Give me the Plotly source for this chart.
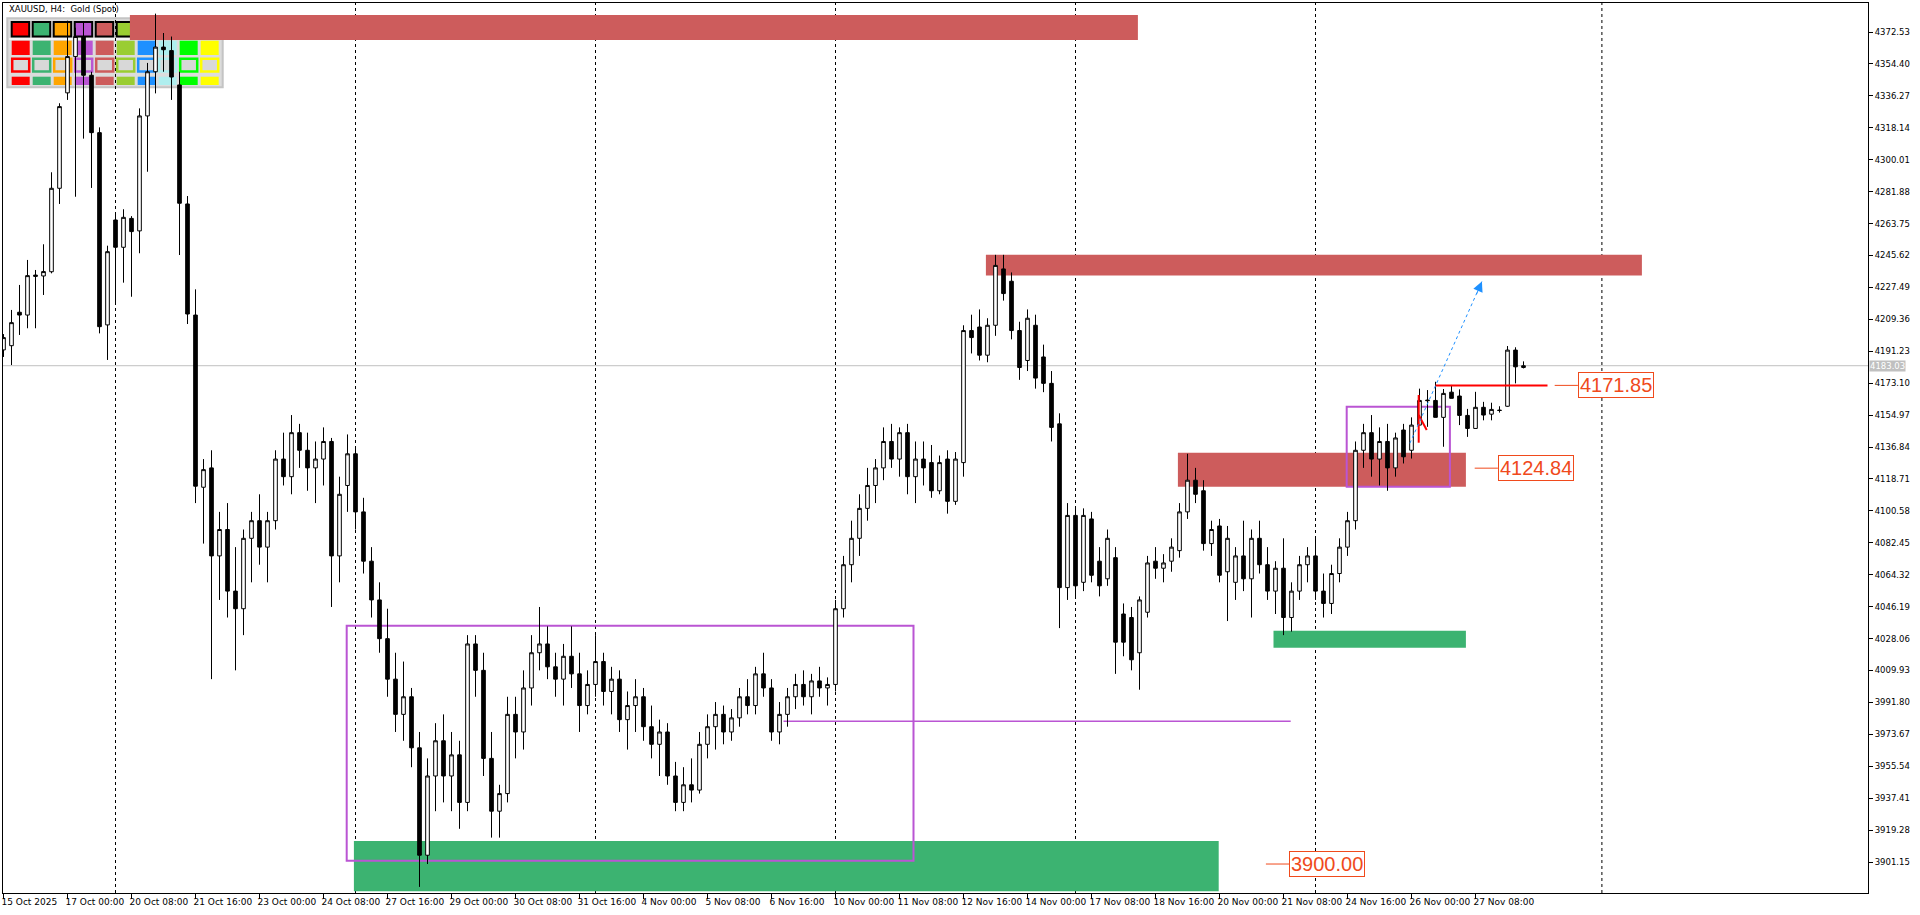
import plotly.graph_objects as go

# ---------------- data ----------------
x_tick_idx = [0, 8, 16, 24, 32, 40, 48, 56, 64, 72, 80, 88, 96, 104, 112, 120, 128, 136, 144, 152, 160, 168, 176, 184]
x_tick_text = ["15 Oct 2025", "17 Oct 00:00", "20 Oct 08:00", "21 Oct 16:00", "23 Oct 00:00", "24 Oct 08:00",
               "27 Oct 16:00", "29 Oct 00:00", "30 Oct 08:00", "31 Oct 16:00", "4 Nov 00:00", "5 Nov 08:00",
               "6 Nov 16:00", "10 Nov 00:00", "11 Nov 08:00", "12 Nov 16:00", "14 Nov 00:00", "17 Nov 08:00",
               "18 Nov 16:00", "20 Nov 00:00", "21 Nov 08:00", "24 Nov 16:00", "26 Nov 00:00", "27 Nov 08:00"]

y_tick_vals = [3901.15, 3919.28, 3937.41, 3955.54, 3973.67, 3991.80, 4009.93, 4028.06, 4046.19, 4064.32,
               4082.45, 4100.58, 4118.71, 4136.84, 4154.97, 4173.10, 4191.23, 4209.36, 4227.49, 4245.62,
               4263.75, 4281.88, 4300.01, 4318.14, 4336.27, 4354.40, 4372.53]

ohlc_rows = [
    (4192.0, 4201.0, 4188.0, 4199.0), (4194.4, 4214.7, 4183.4, 4207.5),
    (4213.4, 4228.9, 4200.5, 4211.8), (4211.8, 4243.1, 4204.3, 4234.2), (4234.5, 4237.4, 4204.3, 4233.8),
    (4234.0, 4252.0, 4223.2, 4236.5), (4236.4, 4292.9, 4235.5, 4283.8), (4283.8, 4332.1, 4274.9, 4330.2),
    (4338.0, 4379.0, 4334.0, 4358.6), (4358.6, 4375.0, 4279.0, 4370.0), (4370.0, 4378.0, 4312.0, 4348.0),
    (4348.0, 4350.0, 4284.0, 4315.4), (4315.4, 4318.4, 4201.4, 4205.2), (4206.2, 4251.2, 4186.3, 4247.8),
    (4265.8, 4269.6, 4217.5, 4250.3), (4250.3, 4271.9, 4230.2, 4267.3), (4266.7, 4268.0, 4222.2, 4259.2),
    (4259.6, 4329.2, 4246.9, 4324.9), (4324.9, 4355.0, 4293.2, 4350.0), (4350.0, 4383.0, 4337.7, 4364.0),
    (4364.0, 4372.0, 4350.0, 4362.5), (4362.0, 4370.0, 4334.0, 4347.0), (4342.5, 4350.0, 4245.9, 4275.3),
    (4274.9, 4279.4, 4206.7, 4212.4), (4211.8, 4226.4, 4105.0, 4114.6), (4114.0, 4130.0, 4082.0, 4124.0),
    (4125, 4135, 4005, 4075), (4075, 4100, 4050, 4090), (4090, 4105, 4040, 4055),
    (4055, 4080, 4010, 4045), (4045, 4090, 4030, 4085), (4085, 4100, 4060, 4095),
    (4095, 4110, 4070, 4080), (4080, 4100, 4060, 4095), (4095, 4135, 4090, 4130),
    (4130, 4145, 4115, 4120), (4120, 4155, 4110, 4145), (4145, 4150, 4125, 4135),
    (4135, 4145, 4112, 4125), (4125, 4140, 4105, 4130), (4130, 4148, 4115, 4140),
    (4140, 4142, 4046, 4075), (4075, 4120, 4060, 4110), (4115, 4144, 4100, 4133),
    (4133, 4136, 4090, 4100), (4100, 4108, 4065, 4072), (4072, 4080, 4040, 4050),
    (4050, 4060, 4020, 4028), (4028, 4045, 3995, 4005), (4005, 4020, 3975, 3985),
    (3985, 4015, 3970, 3995), (3995, 4000, 3955, 3966), (3966, 3975, 3887, 3905),
    (3905, 3960, 3900, 3950), (3950, 3980, 3930, 3970), (3970, 3985, 3935, 3950),
    (3950, 3975, 3930, 3962), (3962, 3970, 3920, 3935), (3935, 4030, 3930, 4025),
    (4025, 4030, 3995, 4010), (4010, 4020, 3950, 3960), (3960, 3975, 3915, 3930),
    (3930, 3945, 3915, 3940), (3940, 3995, 3935, 3985), (3985, 3995, 3960, 3975),
    (3975, 4010, 3965, 4000), (4000, 4030, 3990, 4020), (4020, 4046, 4010, 4025),
    (4025, 4035, 4005, 4012), (4012, 4020, 3995, 4005), (4005, 4025, 3990, 4018),
    (4018, 4035, 4000, 4008), (4008, 4020, 3975, 3990), (3990, 4010, 3985, 4002),
    (4002, 4030, 3995, 4015), (4015, 4020, 3990, 3998), (3998, 4012, 3985, 4005),
    (4005, 4010, 3975, 3982), (3982, 3998, 3965, 3990), (3990, 4005, 3975, 3995),
    (3995, 4000, 3970, 3978), (3978, 3990, 3960, 3968), (3968, 3982, 3950, 3975),
    (3975, 3980, 3945, 3950), (3950, 3958, 3930, 3935), (3935, 3955, 3930, 3945),
    (3945, 3960, 3935, 3942), (3942, 3975, 3940, 3968), (3968, 3985, 3960, 3978),
    (3978, 3992, 3965, 3985), (3985, 3990, 3968, 3975), (3975, 3988, 3970, 3983),
    (3983, 4000, 3978, 3995), (3995, 4005, 3985, 3990), (3990, 4012, 3985, 4008),
    (4008, 4020, 3995, 4000), (4000, 4005, 3970, 3975), (3975, 3992, 3968, 3985),
    (3985, 4000, 3978, 3995), (3995, 4008, 3988, 4002), (4002, 4010, 3990, 3995),
    (3995, 4008, 3985, 4004), (4004, 4012, 3995, 4000), (4000, 4006, 3990, 4002),
    (4002, 4050, 3998, 4045), (4045, 4075, 4040, 4070), (4070, 4095, 4060, 4085),
    (4085, 4110, 4075, 4102), (4102, 4125, 4095, 4115), (4115, 4130, 4105, 4125),
    (4125, 4148, 4118, 4140), (4140, 4150, 4125, 4130), (4130, 4148, 4120, 4145),
    (4145, 4150, 4110, 4120), (4120, 4140, 4105, 4130), (4130, 4140, 4115, 4125),
    (4128, 4138, 4108, 4112), (4112, 4132, 4110, 4128), (4130, 4135, 4099, 4106),
    (4106, 4134, 4104, 4130), (4128, 4206, 4120, 4203), (4203, 4212, 4190, 4199),
    (4205, 4215, 4186, 4189), (4189, 4210, 4185, 4206), (4206, 4246, 4200, 4240),
    (4238, 4246, 4220, 4224), (4231, 4236, 4198, 4203), (4203, 4208, 4175, 4182),
    (4186, 4215, 4180, 4210), (4206, 4212, 4170, 4176), (4188, 4195, 4168, 4173),
    (4173, 4180, 4140, 4148), (4150, 4156, 4034, 4057), (4057, 4105, 4050, 4098),
    (4098, 4103, 4052, 4058), (4060, 4102, 4055, 4098), (4096, 4100, 4060, 4064),
    (4072, 4080, 4052, 4058), (4062, 4090, 4058, 4085), (4074, 4080, 4008, 4026),
    (4042, 4048, 4018, 4026), (4040, 4046, 4010, 4016), (4020, 4052, 3999, 4050),
    (4043, 4075, 4040, 4071), (4072, 4080, 4062, 4068), (4068, 4076, 4060, 4071),
    (4072, 4085, 4066, 4080), (4078, 4105, 4074, 4100), (4100, 4133, 4096, 4118),
    (4118, 4125, 4105, 4110), (4112, 4118, 4078, 4082), (4082, 4095, 4075, 4090),
    (4092, 4096, 4060, 4064), (4066, 4092, 4038, 4085), (4060, 4080, 4050, 4075),
    (4075, 4095, 4055, 4062), (4062, 4090, 4040, 4085), (4085, 4095, 4065, 4070),
    (4070, 4080, 4050, 4055), (4055, 4072, 4042, 4068), (4068, 4085, 4030, 4040),
    (4040, 4060, 4032, 4055), (4055, 4075, 4050, 4070), (4070, 4080, 4060, 4075),
    (4075, 4085, 4050, 4055), (4055, 4065, 4040, 4048), (4048, 4070, 4042, 4065),
    (4065, 4085, 4060, 4080), (4080, 4100, 4075, 4095), (4095, 4140, 4090, 4135),
    (4135, 4150, 4125, 4145), (4145, 4155, 4120, 4130), (4130, 4148, 4115, 4140),
    (4140, 4150, 4112, 4125), (4125, 4145, 4120, 4142), (4146.5, 4150.0, 4127.5, 4131.3),
    (4135.0, 4153.7, 4130.3, 4149.3), (4149.3, 4170.0, 4149.3, 4163.3), (4163.5, 4169.2, 4148.3, 4163.2),
    (4163.3, 4173.9, 4153.7, 4153.7), (4153.7, 4169.8, 4137.0, 4167.3), (4168.0, 4172.1, 4164.5, 4164.5),
    (4165.8, 4169.6, 4149.3, 4154.8), (4154.8, 4158.5, 4142.6, 4147.4), (4147.4, 4168.2, 4147.4, 4159.4),
    (4159.4, 4162.5, 4152.0, 4155.0), (4155.5, 4162.0, 4152.0, 4158.2), (4157.8, 4160.0, 4156.4, 4157.6),
    (4160.0, 4194.2, 4159.7, 4191.9), (4191.9, 4193.5, 4173.0, 4182.4), (4182.0, 4185.5, 4181.5, 4183.03),
]
opens = [r[0] for r in ohlc_rows]
highs = [r[1] for r in ohlc_rows]
lows = [r[2] for r in ohlc_rows]
closes = [r[3] for r in ohlc_rows]
bar_idx = list(range(len(ohlc_rows)))

current_price = 4183.03

# zones: (bar start, bar end, price low, price high)
red_zones = [(15.8, 141.8, 4368.0, 4382.2), (122.8, 204.8, 4234.3, 4246.1), (146.8, 182.8, 4114.3, 4133.6)]
green_zones = [(43.8, 151.9, 3884.5, 3913.1), (158.75, 182.8, 4022.8, 4032.5)]
purple_boxes = [(42.9, 113.75, 3901.8, 4035.4), (167.9, 180.8, 4114.3, 4159.7)]
purple_line = (97.5, 160.9, 3981.1)
week_separators = [14, 44, 74, 104, 134, 164, 199.8]
level_labels = [("4171.85", 4171.85, 193.9, 196.8), ("4124.84", 4124.84, 183.9, 186.8), ("3900.00", 3900.00, 157.8, 160.7)]
red_level = (179.0, 193.0, 4171.85)
arrow_from = (175.8, 4139.0)
arrow_to = (184.8, 4230.8)
palette = ["#FF0000", "#3CB371", "#FFA500", "#BA55D3", "#CD5C5C", "#9ACD32", "#1E90FF", "#AFEEEE", "#00FF00", "#FFFF00"]

# ---------------- geometry ----------------
W, H = 1920, 915
PL, PR, PT, PB = 3, 1868, 3, 893
Y_TOP, Y_BOT = 4389.04, 3883.54
X_LO = -0.0625
X_HI = X_LO + (PR - PL) / 8.0


def pxx(px):
    return (px - PL) / (PR - PL)


def pxy(py):
    return 1 - (py - PT) / (PB - PT)


FONT = "DejaVu Sans"
LABEL_RED = "#F04A1C"

fig = go.Figure()

shapes = []
for x0, x1, lo, hi in red_zones:
    shapes.append(dict(type="rect", xref="x", yref="y", x0=x0, x1=x1, y0=lo, y1=hi,
                       fillcolor="#CD5C5C", line=dict(width=0), layer="below"))
for x0, x1, lo, hi in green_zones:
    shapes.append(dict(type="rect", xref="x", yref="y", x0=x0, x1=x1, y0=lo, y1=hi,
                       fillcolor="#3CB371", line=dict(width=0), layer="below"))

# colour panel (top-left)
shapes.append(dict(type="rect", xref="paper", yref="paper", x0=pxx(7.3), x1=pxx(222.7), y0=pxy(87.3), y1=pxy(18.3),
                   fillcolor="#DCDCDC", line=dict(color="#C4C4C4", width=2), layer="below"))
shapes.append(dict(type="line", xref="paper", yref="paper", x0=pxx(9), x1=pxx(221), y0=pxy(39), y1=pxy(39),
                   line=dict(color="#F4F4F4", width=2), layer="below"))
for k, col in enumerate(palette):
    xl = 11.7 + 21.0 * k
    shapes.append(dict(type="rect", xref="paper", yref="paper", x0=pxx(xl), x1=pxx(xl + 17.5),
                       y0=pxy(36.5), y1=pxy(22.0), fillcolor=col, line=dict(color="black", width=2), layer="below"))
    shapes.append(dict(type="rect", xref="paper", yref="paper", x0=pxx(xl), x1=pxx(xl + 18.0),
                       y0=pxy(55.0), y1=pxy(40.7), fillcolor=col, line=dict(width=0), layer="below"))
    shapes.append(dict(type="rect", xref="paper", yref="paper", x0=pxx(xl + 0.5), x1=pxx(xl + 17.5),
                       y0=pxy(71.5), y1=pxy(58.8), fillcolor="#D8D8D8", line=dict(color=col, width=2.5), layer="below"))
    shapes.append(dict(type="rect", xref="paper", yref="paper", x0=pxx(xl), x1=pxx(xl + 18.0),
                       y0=pxy(85.0), y1=pxy(76.7), fillcolor=col, line=dict(width=0), layer="below"))

for x0, x1, lo, hi in purple_boxes:
    shapes.append(dict(type="rect", xref="x", yref="y", x0=x0, x1=x1, y0=lo, y1=hi,
                       fillcolor="rgba(0,0,0,0)", line=dict(color="#BA55D3", width=2), layer="below"))
shapes.append(dict(type="line", xref="x", yref="y", x0=purple_line[0], x1=purple_line[1],
                   y0=purple_line[2], y1=purple_line[2], line=dict(color="#BA55D3", width=1.5), layer="below"))

for xs in week_separators:
    shapes.append(dict(type="line", xref="x", yref="paper", x0=xs, x1=xs, y0=0, y1=1,
                       line=dict(color="black", width=1, dash="3px,3px"), layer="below"))

# current price line
shapes.append(dict(type="line", xref="paper", yref="y", x0=0, x1=1, y0=current_price, y1=current_price,
                   line=dict(color="#C0C0C0", width=1), layer="below"))

fig.add_trace(go.Candlestick(
    x=bar_idx, open=opens, high=highs, low=lows, close=closes,
    increasing=dict(line=dict(color="black", width=1), fillcolor="white"),
    decreasing=dict(line=dict(color="black", width=1), fillcolor="black"),
    whiskerwidth=0, hoverinfo="skip", showlegend=False,
))

# red level line
fig.add_trace(go.Scatter(x=[red_level[0], red_level[1]], y=[red_level[2], red_level[2]], mode="lines",
                         line=dict(color="#FF0000", width=2), hoverinfo="skip", showlegend=False))
# red N mark
fig.add_trace(go.Scatter(x=[176.9, 176.9, None, 176.9, 177.9], y=[4139.3, 4166.4, None, 4155.0, 4146.5],
                         mode="lines", line=dict(color="#FF0000", width=2), hoverinfo="skip", showlegend=False))
# blue dotted projection
fig.add_trace(go.Scatter(x=[arrow_from[0], arrow_to[0]], y=[arrow_from[1], arrow_to[1]], mode="lines",
                         line=dict(color="#1E90FF", width=1, dash="dot"), hoverinfo="skip", showlegend=False))

annotations = []
annotations.append(dict(x=arrow_to[0], y=arrow_to[1], xref="x", yref="y", text="", showarrow=True,
                        arrowhead=2, arrowsize=2, arrowwidth=1, arrowcolor="#1E90FF", ax=-6, ay=14))

for txt, lvl, xl, xb in level_labels:
    fig.add_trace(go.Scatter(x=[xl, xb], y=[lvl, lvl], mode="lines", line=dict(color=LABEL_RED, width=1),
                             hoverinfo="skip", showlegend=False))
    annotations.append(dict(x=xb, y=lvl, xref="x", yref="y", text=txt, showarrow=False, xanchor="left",
                            yanchor="middle", font=dict(family="Liberation Sans", size=20, color=LABEL_RED),
                            bgcolor="white", bordercolor=LABEL_RED, borderwidth=1, borderpad=1))

annotations.append(dict(x=1, y=current_price, xref="paper", yref="y", text="4183.03", showarrow=False,
                        xanchor="left", yanchor="middle", xshift=1,
                        font=dict(family=FONT, size=8.5, color="white"), bgcolor="#C0C0C0", borderpad=0))

annotations.append(dict(x=pxx(6.5), y=pxy(9), xref="paper", yref="paper", text="XAUUSD, H4:  Gold (Spot)",
                        showarrow=False, xanchor="left", yanchor="middle",
                        font=dict(family=FONT, size=8.5, color="black")))

fig.update_layout(
    width=W, height=H,
    margin=dict(l=PL, r=W - PR, t=PT, b=H - PB, pad=0),
    paper_bgcolor="white", plot_bgcolor="white",
    shapes=shapes, annotations=annotations,
    boxgap=0.35,
    showlegend=False,
    hovermode=False,
    xaxis=dict(range=[X_LO, X_HI], tickmode="array", tickvals=x_tick_idx, ticktext=x_tick_text,
               showgrid=False, zeroline=False, showline=True, linecolor="black", linewidth=1, mirror=True,
               ticks="outside", ticklen=5, tickcolor="black", tickwidth=1, tickangle=0,
               ticklabelposition="outside right", ticklabelshift=-3,
               rangeslider=dict(visible=False), automargin=False,
               tickfont=dict(family=FONT, size=9, color="black")),
    yaxis=dict(range=[Y_BOT, Y_TOP], side="right", tickmode="array", tickvals=y_tick_vals,
               ticktext=["%.2f" % v for v in y_tick_vals], automargin=False,
               showgrid=False, zeroline=False, showline=True, linecolor="black", linewidth=1, mirror=True,
               ticks="outside", ticklen=4, tickcolor="black", tickwidth=1,
               tickfont=dict(family=FONT, size=8.5, color="black")),
)

fig.write_html("out.html", config={"displayModeBar": False},
               post_script="document.body.style.margin='0px';document.body.style.overflow='hidden';")
